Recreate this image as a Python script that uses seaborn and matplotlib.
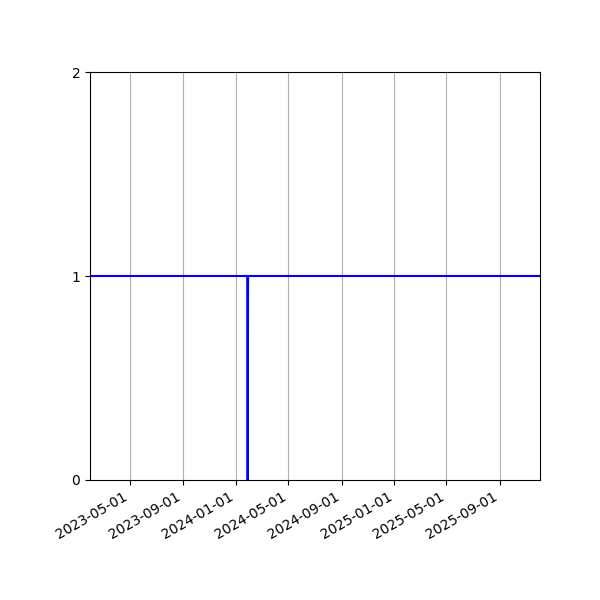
import matplotlib
matplotlib.use("Agg")
import matplotlib.pyplot as plt
import matplotlib.dates as mdates
import seaborn as sns
import pandas as pd

dates = ["2023-01-29", "2024-01-27", "2024-01-28", "2024-01-29", "2025-12-03"]
values = [1, 1, 0, 1, 1]
y_ticks = [0, 1, 2]

df = pd.DataFrame({"date": pd.to_datetime(dates), "value": values})

fig, ax = plt.subplots(figsize=(6, 6), dpi=100)
fig.subplots_adjust(left=0.15, right=0.9, top=0.88, bottom=0.2)

sns.lineplot(data=df, x="date", y="value", ax=ax, color="blue", linewidth=1.5)

ax.set_xlim(df["date"].min(), df["date"].max())
ax.set_ylim(0, 2)
ax.set_yticks(y_ticks)
ax.xaxis.set_major_locator(mdates.MonthLocator(bymonth=[1, 5, 9]))
ax.xaxis.set_major_formatter(mdates.DateFormatter("%Y-%m-%d"))
ax.grid(True, axis="x", color="#b0b0b0", linewidth=0.8)
ax.set_xlabel("")
ax.set_ylabel("")
for lbl in ax.get_xticklabels():
    lbl.set_rotation(30)
    lbl.set_ha("right")

fig.savefig("out.png", dpi=100)
